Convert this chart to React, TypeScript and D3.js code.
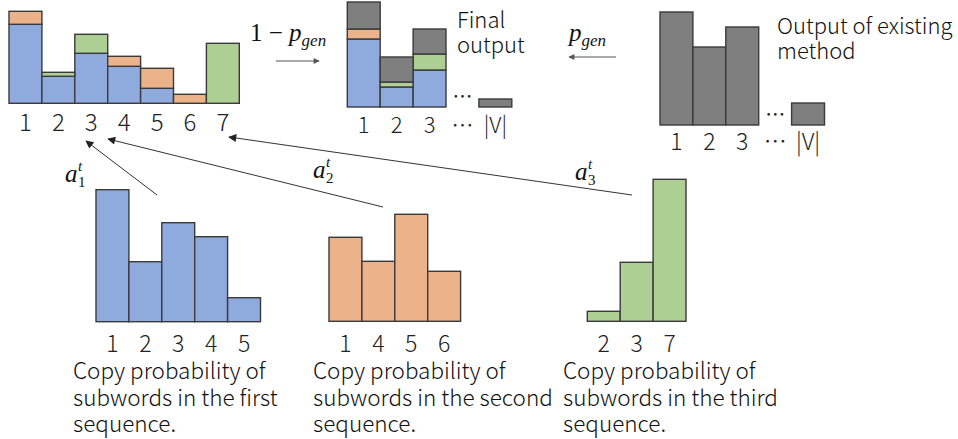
import React, { useEffect, useRef } from 'react'
import * as d3 from 'd3'

// merged copy distribution (top left)
const mergedCats = ['1', '2', '3', '4', '5', '6', '7']
const mergedBlue = [79, 27, 50, 37, 15, 0, 0]
const mergedOrange = [13, 0, 0, 10, 20, 9, 0]
const mergedGreen = [0, 4, 19, 0, 0, 0, 60]

// final output
const finalCats = ['1', '2', '3', '…', '|V|']
const finalBlue = [68, 20, 37, 0, 0]
const finalOrange = [10, 0, 0, 0, 0]
const finalGreen = [0, 5, 16, 0, 0]
const finalGray = [27, 25, 25, 0, 8]

// output of existing method
const existingCats = ['1', '2', '3', '…', '|V|']
const existingGray = [113, 78, 98, 0, 22]

// copy probabilities per sequence
const seq1Cats = ['1', '2', '3', '4', '5']
const seq1Values = [132, 60, 99, 85, 24]
const seq2Cats = ['1', '4', '5', '6']
const seq2Values = [84, 60, 107, 50]
const seq3Cats = ['2', '3', '7']
const seq3Values = [10, 59, 142]

const captionLines = [
  ['Copy probability of', 'subwords in the first', 'sequence.'],
  ['Copy probability of', 'subwords in the second', 'sequence.'],
  ['Copy probability of', 'subwords in the third', 'sequence.'],
]

const COLORS = { blue: '#8FAADC', orange: '#ECB38A', green: '#ADCF93', gray: '#7F7F7F' }
const SANS = '"Noto Sans CJK JP", "Noto Sans", sans-serif'
const SERIF = '"Liberation Serif", "DejaVu Serif", serif'
const BW = 32.9

export default function App() {
  const ref = useRef<SVGSVGElement>(null)

  useEffect(() => {
    const svg = d3.select(ref.current)
    svg.selectAll('*').remove()

    const defs = svg.append('defs')
    defs.append('marker')
      .attr('id', 'head')
      .attr('viewBox', '0 0 10 10')
      .attr('refX', 9).attr('refY', 5)
      .attr('markerWidth', 10).attr('markerHeight', 8)
      .attr('markerUnits', 'userSpaceOnUse')
      .attr('orient', 'auto')
      .append('path').attr('d', 'M0,0 L10,5 L0,10 z').attr('fill', '#222')
    defs.append('marker')
      .attr('id', 'headSmall')
      .attr('viewBox', '0 0 10 10')
      .attr('refX', 9).attr('refY', 5)
      .attr('markerWidth', 8).attr('markerHeight', 6)
      .attr('markerUnits', 'userSpaceOnUse')
      .attr('orient', 'auto')
      .append('path').attr('d', 'M0,0 L10,5 L0,10 z').attr('fill', '#555')

    const drawChart = (
      cats: string[],
      layers: { key: string, values: number[] }[],
      x0: number,
      baseline: number,
      labelY: number,
      labelSize: number,
    ) => {
      const x = d3.scaleBand().domain(cats).range([x0, x0 + cats.length * BW])
      const y = d3.scaleLinear().domain([0, 100]).range([baseline, baseline - 100])
      const rows = cats.map((c, i) => {
        const r: any = { cat: c }
        layers.forEach(l => { r[l.key] = l.values[i] })
        return r
      })
      const stack = d3.stack().keys(layers.map(l => l.key))(rows)
      const g = svg.append('g')
      stack.forEach(layer => {
        g.selectAll(null)
          .data(layer.filter(d => d[1] > d[0]))
          .enter()
          .append('rect')
            .attr('x', d => x((d.data as any).cat)!)
            .attr('y', d => y(d[1]))
            .attr('width', x.bandwidth())
            .attr('height', d => y(d[0]) - y(d[1]))
            .style('fill', (COLORS as any)[layer.key])
            .style('stroke', '#3a3a3a')
            .style('stroke-width', 1.4)
      })
      g.selectAll(null)
        .data(cats)
        .enter()
        .append('text')
          .attr('x', d => x(d)! + x.bandwidth() / 2)
          .attr('y', labelY)
          .attr('text-anchor', 'middle')
          .style('font-family', SANS)
          .style('font-weight', 300)
          .style('font-size', labelSize + 'px')
          .style('fill', '#222')
          .text(d => d)
      // ellipsis next to the last bar
      g.selectAll(null)
        .data(cats.filter(c => c === '…'))
        .enter()
        .append('text')
          .attr('x', d => x(d)! + x.bandwidth() / 2)
          .attr('y', baseline - 3)
          .attr('text-anchor', 'middle')
          .style('font-family', SANS)
          .style('font-size', '20px')
          .style('fill', '#222')
          .text('…')
    }

    drawChart(mergedCats, [
      { key: 'blue', values: mergedBlue },
      { key: 'orange', values: mergedOrange },
      { key: 'green', values: mergedGreen },
    ], 9, 103.3, 131, 24)

    drawChart(finalCats, [
      { key: 'blue', values: finalBlue },
      { key: 'orange', values: finalOrange },
      { key: 'green', values: finalGreen },
      { key: 'gray', values: finalGray },
    ], 347.3, 107, 133, 22)

    drawChart(existingCats, [{ key: 'gray', values: existingGray }], 660, 125, 150, 23)

    drawChart(seq1Cats, [{ key: 'blue', values: seq1Values }], 96, 321.7, 352, 23)
    drawChart(seq2Cats, [{ key: 'orange', values: seq2Values }], 329, 321.3, 352, 23)
    drawChart(seq3Cats, [{ key: 'green', values: seq3Values }], 587.3, 321.3, 352, 23)

    // captions
    const capX = [73, 313, 563]
    captionLines.forEach((lines, i) => {
      const t = svg.append('text')
        .style('font-family', SANS)
        .style('font-weight', 300)
        .style('font-size', '22.5px')
        .style('fill', '#111')
      lines.forEach((line, j) => {
        t.append('tspan').attr('x', capX[i]).attr('y', 379 + j * 26.5).text(line)
      })
    })

    const title = (lines: string[], x: number, y0: number) => {
      const t = svg.append('text')
        .style('font-family', SANS)
        .style('font-weight', 300)
        .style('font-size', '22px')
        .style('fill', '#111')
      lines.forEach((line, j) => {
        t.append('tspan').attr('x', x).attr('y', y0 + j * 25).text(line)
      })
    }
    title(['Final', 'output'], 457, 28)
    title(['Output of existing', 'method'], 777, 34)

    // horizontal arrows with p_gen labels
    svg.append('line')
      .attr('x1', 276).attr('y1', 61).attr('x2', 319).attr('y2', 61)
      .style('stroke', '#555').style('stroke-width', 1)
      .attr('marker-end', 'url(#headSmall)')
    svg.append('line')
      .attr('x1', 616).attr('y1', 57).attr('x2', 569).attr('y2', 57)
      .style('stroke', '#555').style('stroke-width', 1)
      .attr('marker-end', 'url(#headSmall)')

    const pgen = svg.append('text').attr('x', 250).attr('y', 41)
      .style('font-family', SERIF).style('font-size', '25px').style('fill', '#111')
    pgen.append('tspan').text('1 − ')
    pgen.append('tspan').style('font-style', 'italic').text('p')
    pgen.append('tspan').style('font-style', 'italic').style('font-size', '17px').attr('dy', 5).text('gen')

    const pgen2 = svg.append('text').attr('x', 569).attr('y', 41)
      .style('font-family', SERIF).style('font-size', '25px').style('fill', '#111')
    pgen2.append('tspan').style('font-style', 'italic').text('p')
    pgen2.append('tspan').style('font-style', 'italic').style('font-size', '17px').attr('dy', 5).text('gen')

    // diagonal attention arrows
    const arrows = [
      { from: [157, 195], to: [86, 141], label: '1', lx: 65, ly: 182 },
      { from: [383, 207], to: [108, 139], label: '2', lx: 313, ly: 178 },
      { from: [632, 195], to: [229, 137], label: '3', lx: 575, ly: 180 },
    ]
    arrows.forEach(a => {
      svg.append('line')
        .attr('x1', a.from[0]).attr('y1', a.from[1])
        .attr('x2', a.to[0]).attr('y2', a.to[1])
        .style('stroke', '#333').style('stroke-width', 1)
        .attr('marker-end', 'url(#head)')
      const t = svg.append('text')
        .style('font-family', SERIF).style('fill', '#111').style('font-style', 'italic')
      t.append('tspan').attr('x', a.lx).attr('y', a.ly).style('font-size', '25px').text('a')
      t.append('tspan').attr('x', a.lx + 13).attr('y', a.ly - 11).style('font-size', '15px').text('t')
      t.append('tspan').attr('x', a.lx + 13).attr('y', a.ly + 5).style('font-size', '15px').style('font-style', 'normal').text(a.label)
    })
  }, [])

  return (
    <svg ref={ref} width={958} height={439}
      style={{ position: 'absolute', left: 0, top: 0, background: '#fff' }} />
  )
}
